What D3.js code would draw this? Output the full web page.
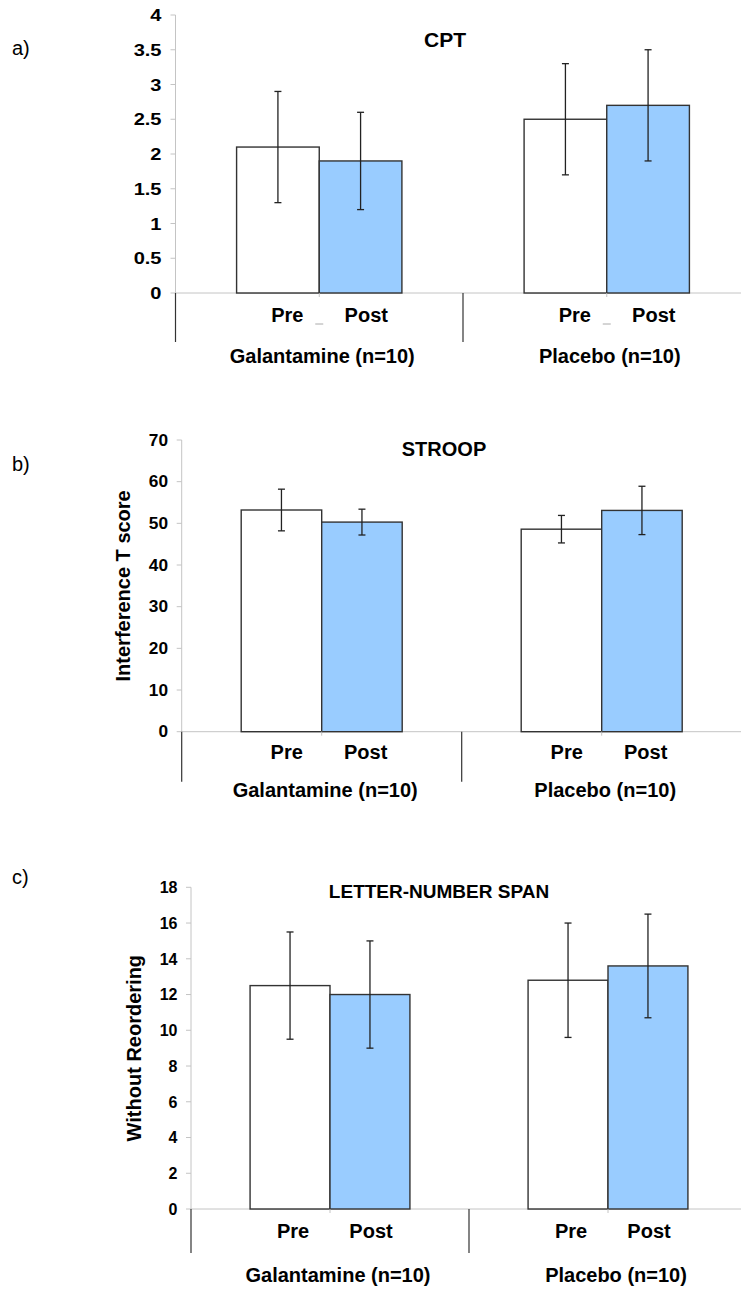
<!DOCTYPE html>
<html>
<head>
<meta charset="utf-8">
<script src="https://cdn.jsdelivr.net/npm/d3@7"></script>
<style>
  html, body { margin: 0; padding: 0; background: #fff; }
  svg { display: block; font-family: "Liberation Sans", Arial, sans-serif; }
</style>
</head>
<body>
<script>
// ---------- DATA ----------
const groups = ["Galantamine (n=10)", "Placebo (n=10)"];
const phases = ["Pre", "Post"];

// CPT (panel a) — order: Gal Pre, Gal Post, Plac Pre, Plac Post
const cptMean = [2.1, 1.9, 2.5, 2.7];
const cptErr  = [0.8, 0.7, 0.8, 0.8];
const cptTicks = [0, 0.5, 1, 1.5, 2, 2.5, 3, 3.5, 4];

// STROOP (panel b)
const stroopMean = [53.2, 50.3, 48.6, 53.1];
const stroopErr  = [5.0, 3.1, 3.3, 5.8];
const stroopTicks = [0, 10, 20, 30, 40, 50, 60, 70];

// LETTER-NUMBER SPAN (panel c)
const lnsMean = [12.5, 12.0, 12.8, 13.6];
const lnsErr  = [3.0, 3.0, 3.2, 2.9];
const lnsTicks = [0, 2, 4, 6, 8, 10, 12, 14, 16, 18];

const panelLetters = ["a)", "b)", "c)"];
const titles = ["CPT", "STROOP", "LETTER-NUMBER SPAN"];
const yTitles = ["", "Interference T score", "Without Reordering"];

// ---------- LAYOUT ----------
const W = 741, H = 1289;
const svg = d3.select("body").append("svg").attr("width", W).attr("height", H);
svg.append("rect").attr("width", W).attr("height", H).attr("fill", "#fff");

const fillColors = { Pre: "#ffffff", Post: "#99ccff" };

function drawPanel(p) {
  const g = svg.append("g");
  const y = d3.scaleLinear().domain([0, p.ticks[p.ticks.length - 1]]).range([p.y0, p.yTop]);
  const x0 = d3.scaleBand().domain(groups).range([p.axisX, p.axisX + 2 * p.band]);
  const x1 = d3.scaleBand().domain(phases).range([p.band * 0.2125, p.band * 0.7875]);

  const rows = [];
  groups.forEach((gr, gi) => phases.forEach((ph, pi) => {
    const k = gi * 2 + pi;
    rows.push({ group: gr, phase: ph, mean: p.mean[k], err: p.err[k] });
  }));

  // y axis line
  g.append("line").attr("x1", p.axisX).attr("x2", p.axisX)
    .attr("y1", y(p.ticks[p.ticks.length - 1])).attr("y2", p.y0)
    .attr("stroke", "#c4c4c4").attr("stroke-width", 1);
  // tick marks + labels
  p.ticks.forEach(t => {
    g.append("line").attr("x1", p.axisX - 5).attr("x2", p.axisX)
      .attr("y1", y(t)).attr("y2", y(t)).attr("stroke", "#c4c4c4");
    g.append("text")
      .attr("transform", `translate(${p.tickRight},${y(t)}) scale(${p.tickSx},1)`)
      .attr("text-anchor", "end").attr("dy", "0.36em")
      .attr("font-size", p.tickSize).attr("font-weight", "bold").attr("fill", "#000")
      .text(d3.format("")(t));
  });

  // x axis line
  g.append("line").attr("x1", p.axisX).attr("x2", p.axisX + 2 * p.band)
    .attr("y1", p.y0).attr("y2", p.y0).attr("stroke", "#c4c4c4");

  // separators
  [0, 1, 2].forEach(i => {
    const xx = p.axisX + i * p.band;
    g.append("line").attr("x1", xx).attr("x2", xx)
      .attr("y1", p.y0).attr("y2", p.sepBottom)
      .attr("stroke", "#333").attr("stroke-width", 1.2);
  });

  // bars
  g.selectAll("rect.bar").data(rows).join("rect").attr("class", "bar")
    .attr("x", d => x0(d.group) + x1(d.phase))
    .attr("width", x1.bandwidth())
    .attr("y", d => y(d.mean))
    .attr("height", d => p.y0 - y(d.mean))
    .attr("fill", d => fillColors[d.phase])
    .attr("stroke", "#333").attr("stroke-width", 1.4);

  // small ticks between pre/post
  groups.forEach(gr => {
    const cx = x0(gr) + p.band / 2;
    g.append("line").attr("x1", cx).attr("x2", cx).attr("y1", p.y0).attr("y2", p.y0 + 4)
      .attr("stroke", "#c4c4c4");
    if (p.underscore) {
      g.append("line").attr("x1", cx - 4).attr("x2", cx + 4)
        .attr("y1", p.y0 + 31).attr("y2", p.y0 + 31)
        .attr("stroke", "#aaa").attr("stroke-width", 1);
    }
  });

  // error bars
  const eb = g.selectAll("g.eb").data(rows).join("g").attr("class", "eb");
  const cxOf = d => x0(d.group) + x1(d.phase) + x1.bandwidth() / 2;
  eb.append("line").attr("x1", cxOf).attr("x2", cxOf)
    .attr("y1", d => y(d.mean + d.err)).attr("y2", d => y(d.mean - d.err))
    .attr("stroke", "#222").attr("stroke-width", 1.3);
  [1, -1].forEach(s => {
    eb.append("line").attr("x1", d => cxOf(d) - 3.5).attr("x2", d => cxOf(d) + 3.5)
      .attr("y1", d => y(d.mean + s * d.err)).attr("y2", d => y(d.mean + s * d.err))
      .attr("stroke", "#222").attr("stroke-width", 1.3);
  });

  // phase labels
  groups.forEach(gr => {
    const cx = x0(gr) + p.band / 2;
    g.append("text").attr("x", cx + p.preOff).attr("y", p.phaseY)
      .attr("text-anchor", "middle").attr("font-size", 20).attr("font-weight", "bold")
      .text(phases[0]);
    g.append("text").attr("x", cx + p.postOff).attr("y", p.phaseY)
      .attr("text-anchor", "middle").attr("font-size", 20).attr("font-weight", "bold")
      .text(phases[1]);
    g.append("text").attr("x", cx + p.groupOff).attr("y", p.groupY)
      .attr("text-anchor", "middle").attr("font-size", 20).attr("font-weight", "bold")
      .text(gr);
  });

  // title
  g.append("text").attr("x", p.titleX).attr("y", p.titleY)
    .attr("text-anchor", "middle").attr("font-size", p.titleSize).attr("font-weight", "bold")
    .text(p.title);

  // y title
  if (p.yTitle) {
    g.append("text")
      .attr("transform", `translate(${p.yTitleX},${(p.y0 + p.yTop) / 2}) rotate(-90)`)
      .attr("text-anchor", "middle").attr("font-size", 20).attr("font-weight", "bold")
      .text(p.yTitle);
  }

  // panel letter
  g.append("text").attr("x", 12).attr("y", p.letterY)
    .attr("font-size", 20).attr("fill", "#000").text(p.letter);
}

drawPanel({
  mean: cptMean, err: cptErr, ticks: cptTicks,
  axisX: 175.5, y0: 293, yTop: 15, band: 287.5, sepBottom: 342,
  tickRight: 161.5, tickSize: 17, tickSx: 1.18,
  preOff: -32, postOff: 47, phaseY: 322, groupOff: 3, groupY: 363,
  title: titles[0], titleX: 445, titleY: 47, titleSize: 21,
  yTitle: yTitles[0], letter: panelLetters[0], letterY: 55, underscore: true
});

drawPanel({
  mean: stroopMean, err: stroopErr, ticks: stroopTicks,
  axisX: 181.7, y0: 731.7, yTop: 440, band: 280, sepBottom: 781.7,
  tickRight: 168, tickSize: 16, tickSx: 1.08,
  preOff: -35, postOff: 44, phaseY: 758.5, groupOff: 3.5, groupY: 796.5,
  title: titles[1], titleX: 444, titleY: 455.5, titleSize: 20,
  yTitle: yTitles[1], yTitleX: 130, letter: panelLetters[1], letterY: 471, underscore: false
});

drawPanel({
  mean: lnsMean, err: lnsErr, ticks: lnsTicks,
  axisX: 191, y0: 1209, yTop: 887.3, band: 278, sepBottom: 1253,
  tickRight: 177.5, tickSize: 16, tickSx: 1.0,
  preOff: -37, postOff: 41, phaseY: 1237.5, groupOff: 8, groupY: 1281.5,
  title: titles[2], titleX: 439, titleY: 898, titleSize: 19,
  yTitle: yTitles[2], yTitleX: 141, letter: panelLetters[2], letterY: 884, underscore: false
});
</script>
</body>
</html>
